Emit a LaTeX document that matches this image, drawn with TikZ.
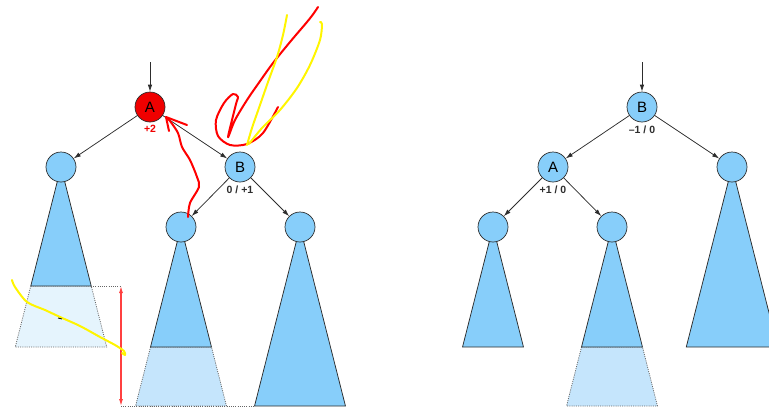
\documentclass[tikz,border=0pt]{standalone}
\usepackage{fontspec}
\setmainfont{Liberation Sans}
\usetikzlibrary{calc,arrows.meta}

\definecolor{nodeblue}{RGB}{135,206,250}
\definecolor{ghostblue}{RGB}{229,244,253}
\definecolor{grownblue}{RGB}{197,229,252}
\definecolor{nodered}{RGB}{240,0,0}
\definecolor{linegray}{RGB}{45,45,45}
\definecolor{penyellow}{RGB}{255,245,0}

% subtree of height #2 hanging from node #1
\newcommand{\subtri}[2]{%
  \filldraw[sub] (#1) -- ++({-0.254*#2},#2) -- ++({0.508*#2},0) -- cycle;}
% extra level below a subtree, from depth #2 to #3
\newcommand{\grown}[4]{%
  \filldraw[ghost,fill=#4] ($(#1)+({-0.254*#2},#2)$) -- ($(#1)+({0.254*#2},#2)$)
    -- ($(#1)+({0.254*#3},#3)$) -- ($(#1)+({-0.254*#3},#3)$) -- cycle;}

\begin{document}
\begin{tikzpicture}
  [x=1pt,y=-1pt,
   knot/.style={circle,draw=linegray,fill=nodeblue,line width=0.7pt,
     minimum size=30pt,inner sep=0pt,font=\fontsize{15}{15}\selectfont},
   edge/.style={draw=linegray,line width=0.75pt,-{Latex[length=7pt,width=4.5pt]}},
   bal/.style={font=\bfseries\fontsize{10.5}{11}\selectfont,text=linegray,
     inner sep=1pt,below=2pt},
   sub/.style={fill=nodeblue,draw=linegray,line width=0.75pt},
   ghost/.style={draw=black!60,line width=0.8pt,dash pattern=on 1pt off 1.2pt},
   pen/.style={line width=2pt,line cap=round,line join=round}]

  \useasboundingbox (0,0) rectangle (769,410);
  \clip (0,0) rectangle (769,410);

  % left: A is out of balance
  \coordinate (inL) at (150,62);
  \coordinate (A)   at (150,107);
  \coordinate (l)   at (61,167);
  \coordinate (B)   at (240,167);
  \coordinate (bl)  at (181,227);
  \coordinate (br)  at (300,227);

  % right: after the rotation
  \coordinate (inR) at (642,62);
  \coordinate (B2)  at (642,107);
  \coordinate (A2)  at (553,167);
  \coordinate (r2)  at (732,167);
  \coordinate (al2) at (493,227);
  \coordinate (ar2) at (612,227);

  \grown{l}{119}{180}{ghostblue}
  \grown{bl}{120}{179}{grownblue}
  \grown{ar2}{120}{179}{grownblue}
  \foreach \c/\d in {l/119, bl/120, br/179, r2/180, al2/120, ar2/120}
    {\subtri{\c}{\d}}

  % height difference
  \coordinate (hTop) at (121,286);
  \coordinate (hBot) at (121,406);
  \draw[ghost] ($(l)+(30,119)$) -- (hTop);
  \draw[ghost] (hBot) -- ($(br)+(-45,179)$);
  \draw[red!75,line width=1.1pt,{Latex[length=7pt,width=4pt]}-{Latex[length=7pt,width=4pt]}]
    (hTop) -- (hBot);

  \node[knot,fill=nodered] (nA) at (A) {A};
  \node[knot] (nl)  at (l) {};
  \node[knot] (nB)  at (B) {B};
  \node[knot] (nbl) at (bl) {};
  \node[knot] (nbr) at (br) {};
  \node[bal,text=nodered] at (nA.south) {+2};
  \node[bal] at (nB.south) {0 / +1};

  \node[knot] (nB2)  at (B2) {B};
  \node[knot] (nA2)  at (A2) {A};
  \node[knot] (nr2)  at (r2) {};
  \node[knot] (nal2) at (al2) {};
  \node[knot] (nar2) at (ar2) {};
  \node[bal] at (nB2.south) {–1 / 0};
  \node[bal] at (nA2.south) {+1 / 0};

  \draw[edge] (inL) -- (nA);
  \draw[edge] (nA) -- (nl);
  \draw[edge] (nA) -- (nB);
  \draw[edge] (nB) -- (nbl);
  \draw[edge] (nB) -- (nbr);

  \draw[edge] (inR) -- (nB2);
  \draw[edge] (nB2) -- (nA2);
  \draw[edge] (nB2) -- (nr2);
  \draw[edge] (nA2) -- (nal2);
  \draw[edge] (nA2) -- (nar2);

  % pen marks
  \draw[pen,red] plot[smooth] coordinates {(188,217) (190,203) (199,187) (197,177)
    (190,160) (182,147) (178,133) (170,121) (166,117)};
  \draw[pen,red] (187,125) -- (166,117) -- (169,131);
  \draw[pen,red] plot[smooth] coordinates {(318,7) (314,13) (307,22) (290,42) (273,63)
    (258,84) (247,100) (235,120) (228,137) (236,104) (238,97) (233,94) (224,103)
    (216,120) (218,136) (230,145) (247,144) (263,133) (278,107)};
  \draw[pen,penyellow] plot[smooth] coordinates {(287,15) (283,35) (277,57) (268,82)
    (260,105) (252,128) (247,145)};
  \draw[pen,penyellow] plot[smooth] coordinates {(249,144) (262,128) (280,110)
    (297,88) (310,65) (320,40) (322,24) (320,22)};
  \draw[pen,penyellow] plot[smooth] coordinates {(12,280) (15,287) (27,302) (45,310)
    (60,317) (80,326) (100,337) (115,345) (124,351) (125,355) (122,353)};
  \draw[line width=0.8pt] (58,318) -- (62,319);
\end{tikzpicture}
\end{document}
